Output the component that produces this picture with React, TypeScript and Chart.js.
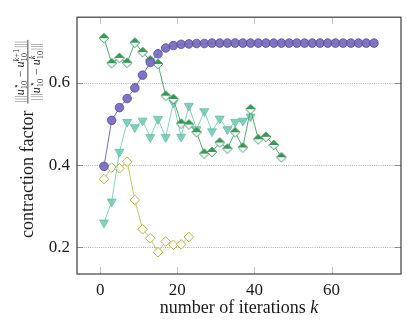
import { useEffect, useRef } from "react";
import { Chart, registerables } from "chart.js";

Chart.register(...registerables);

// ---------- data ----------
const kPurple = [1, 3, 5, 7, 9, 11, 13, 15, 17, 19, 21, 23, 25, 27, 29, 31, 33, 35, 37, 39, 41, 43, 45, 47, 49, 51, 53, 55, 57, 59, 61, 63, 65, 67, 69, 71];
const purpleValues = [0.397, 0.509, 0.54, 0.562, 0.588, 0.619, 0.65, 0.671, 0.685, 0.691, 0.694, 0.695, 0.696, 0.696, 0.697, 0.697, 0.697, 0.697, 0.697, 0.697, 0.697, 0.697, 0.697, 0.697, 0.697, 0.697, 0.697, 0.697, 0.697, 0.697, 0.697, 0.697, 0.697, 0.697, 0.697, 0.697];

const kGreen = [1, 3, 5, 7, 9, 11, 13, 15, 17, 19, 21, 23, 25, 27, 29, 31, 33, 35, 37, 39, 41, 43, 45, 47];
const greenValues = [0.709, 0.648, 0.661, 0.649, 0.698, 0.675, 0.655, 0.646, 0.569, 0.561, 0.501, 0.499, 0.48, 0.428, 0.432, 0.455, 0.44, 0.48, 0.443, 0.536, 0.463, 0.469, 0.449, 0.419];

const kTeal = [1, 3, 5, 7, 9, 11, 13, 15, 17, 19, 21, 23, 25, 27, 29, 31, 33, 35, 37, 39];
const tealValues = [0.26, 0.311, 0.432, 0.505, 0.492, 0.508, 0.468, 0.512, 0.468, 0.552, 0.469, 0.544, 0.487, 0.531, 0.482, 0.513, 0.487, 0.505, 0.508, 0.518];

const kOlive = [1, 3, 5, 7, 9, 11, 13, 15, 17, 19, 21, 23];
const oliveValues = [0.366, 0.394, 0.392, 0.408, 0.315, 0.244, 0.222, 0.188, 0.214, 0.206, 0.207, 0.225];

const xTicks = [0, 20, 40, 60];
const yTicks = [0.2, 0.4, 0.6];
const xTitleText = "number of iterations ";
const xTitleVar = "k";
const yTitleText = "contraction factor";

// ---------- styles ----------
const FONT = '"Liberation Serif", "Times New Roman", serif';
const TEXT = "#1a1a1a";
const PURPLE_FILL = "rgba(118,106,190,0.92)";
const PURPLE_EDGE = "#564a9e";
const PURPLE_LINE = "#6a5fb3";
const GREEN = "#3a9659";
const GREEN_LINE = "#45a263";
const TEAL_FILL = "rgba(110,200,178,0.85)";
const TEAL_EDGE = "#66bfa8";
const TEAL_LINE = "#78cdb7";
const OLIVE = "#b8b34a";
const OLIVE_LINE = "#c2be62";

function pts(ks: number[], vs: number[]) {
  return ks.map((k, i) => ({ x: k, y: vs[i] }));
}

function halfDiamond(color: string) {
  const c = document.createElement("canvas");
  const s = 12;
  c.width = s;
  c.height = s;
  const g = c.getContext("2d")!;
  const cx = 6, cy = 6, r = 4.8;
  const path = () => {
    g.beginPath();
    g.moveTo(cx, cy - r);
    g.lineTo(cx + r, cy);
    g.lineTo(cx, cy + r);
    g.lineTo(cx - r, cy);
    g.closePath();
  };
  path();
  g.fillStyle = "#fff";
  g.fill();
  g.beginPath();
  g.moveTo(cx, cy - r);
  g.lineTo(cx + r, cy);
  g.lineTo(cx - r, cy);
  g.closePath();
  g.fillStyle = color;
  g.fill();
  path();
  g.strokeStyle = color;
  g.lineWidth = 1;
  g.stroke();
  return c;
}

type Tok = { t: string; it?: boolean; bars?: boolean } | { sup: [string, boolean][]; sub: string };

function runTokens(ctx: CanvasRenderingContext2D, toks: Tok[], x: number, y: number, base: number, small: number, draw: boolean) {
  let cx = x;
  for (const tk of toks) {
    if ("sup" in tk) {
      let w1 = 0;
      for (const [s, it] of tk.sup) {
        ctx.font = `${it ? "italic " : ""}${small}px ${FONT}`;
        if (draw) ctx.fillText(s, cx + w1, y - base * 0.4);
        w1 += ctx.measureText(s).width;
      }
      ctx.font = `${small}px ${FONT}`;
      const w2 = ctx.measureText(tk.sub).width;
      if (draw) ctx.fillText(tk.sub, cx, y + base * 0.25);
      cx += Math.max(w1, w2) + 0.6;
    } else {
      ctx.font = `${tk.it ? "italic " : ""}${base}px ${FONT}`;
      if (draw) {
        const prev = ctx.fillStyle;
        if (tk.bars) ctx.fillStyle = "#8a8a8a";
        ctx.fillText(tk.t, cx, y);
        ctx.fillStyle = prev;
      }
      cx += ctx.measureText(tk.t).width;
    }
  }
  return cx - x;
}

const numTokens: Tok[] = [
  { t: "|||", bars: true },
  { t: "u", it: true },
  { sup: [["⋆", false]], sub: "10" },
  { t: " − " },
  { t: "u", it: true },
  { sup: [["k", true], ["+1", false]], sub: "10" },
  { t: "|||", bars: true },
];
const denTokens: Tok[] = [
  { t: "|||", bars: true },
  { t: "u", it: true },
  { sup: [["⋆", false]], sub: "10" },
  { t: " − " },
  { t: "u", it: true },
  { sup: [["k", true]], sub: "10" },
  { t: "|||", bars: true },
];

const decorPlugin = {
  id: "decor",
  beforeDatasetsDraw(chart: any) {
    const ctx: CanvasRenderingContext2D = chart.ctx;
    const { left, right, top, bottom } = chart.chartArea;
    const ys = chart.scales.y;
    const xs = chart.scales.x;
    ctx.save();
    ctx.strokeStyle = "#9c9c9c";
    ctx.lineWidth = 0.8;
    ctx.setLineDash([1, 1.2]);
    for (const t of ys.ticks) {
      const py = Math.round(ys.getPixelForValue(t.value)) + 0.5;
      ctx.beginPath();
      ctx.moveTo(left, py);
      ctx.lineTo(right, py);
      ctx.stroke();
    }
    ctx.setLineDash([]);
    ctx.strokeStyle = "#777";
    ctx.lineWidth = 0.8;
    for (const t of ys.ticks) {
      const py = Math.round(ys.getPixelForValue(t.value)) + 0.5;
      ctx.beginPath();
      ctx.moveTo(left, py);
      ctx.lineTo(left + 6, py);
      ctx.moveTo(right - 6, py);
      ctx.lineTo(right, py);
      ctx.stroke();
    }
    ctx.strokeStyle = "#c4c4c4";
    ctx.lineWidth = 1;
    for (const t of xs.ticks) {
      const px = Math.round(xs.getPixelForValue(t.value)) + 0.5;
      ctx.beginPath();
      ctx.moveTo(px, top);
      ctx.lineTo(px, top + 7);
      ctx.moveTo(px, bottom);
      ctx.lineTo(px, bottom - 7);
      ctx.stroke();
    }
    ctx.restore();
  },
  afterDraw(chart: any) {
    const ctx: CanvasRenderingContext2D = chart.ctx;
    const { left, right, top, bottom } = chart.chartArea;
    ctx.save();
    ctx.strokeStyle = "#3c3c3c";
    ctx.lineWidth = 1.2;
    ctx.strokeRect(left, top, right - left, bottom - top);

    // x title
    ctx.fillStyle = TEXT;
    ctx.textBaseline = "alphabetic";
    ctx.textAlign = "left";
    ctx.font = `18px ${FONT}`;
    const w1 = ctx.measureText(xTitleText).width;
    ctx.font = `italic 18px ${FONT}`;
    const w2 = ctx.measureText(xTitleVar).width;
    const sx = (left + right) / 2 - (w1 + w2) / 2;
    ctx.font = `18px ${FONT}`;
    ctx.fillText(xTitleText, sx, 313);
    ctx.font = `italic 18px ${FONT}`;
    ctx.fillText(xTitleVar, sx + w1, 313);

    // y title (rotated)
    ctx.translate(28, 238);
    ctx.rotate(-Math.PI / 2);
    ctx.font = `18px ${FONT}`;
    ctx.fillText(yTitleText, 0, 5);
    const wcf = ctx.measureText(yTitleText).width;
    const base = 12, small = 8.5;
    const wn = runTokens(ctx, numTokens, 0, 0, base, small, false);
    const wd = runTokens(ctx, denTokens, 0, 0, base, small, false);
    const W = Math.max(wn, wd) + 2;
    const fx = wcf + 7;
    runTokens(ctx, numTokens, fx + (W - wn) / 2, -4.5, base, small, true);
    runTokens(ctx, denTokens, fx + (W - wd) / 2, 11.5, base, small, true);
    ctx.fillRect(fx, -0.5, W, 0.8);
    ctx.restore();
  },
};

export default function App() {
  const ref = useRef<HTMLCanvasElement>(null);
  useEffect(() => {
    const canvas = ref.current!;
    const greenMark = halfDiamond(GREEN);
    const chart = new Chart(canvas, {
      type: "line",
      data: {
        datasets: [
          {
            data: pts(kPurple, purpleValues),
            borderColor: PURPLE_LINE,
            borderWidth: 0.9,
            pointStyle: "circle",
            pointRadius: 4.3,
            pointBackgroundColor: PURPLE_FILL,
            pointBorderColor: PURPLE_EDGE,
            pointBorderWidth: 0.8,
            tension: 0,
            fill: false,
          },
          {
            data: pts(kGreen, greenValues),
            borderColor: GREEN_LINE,
            borderWidth: 0.9,
            pointStyle: greenMark as any,
            pointRadius: 5,
            tension: 0,
            fill: false,
          },
          {
            data: pts(kTeal, tealValues),
            borderColor: TEAL_LINE,
            borderWidth: 0.9,
            pointStyle: "triangle",
            pointRotation: 180,
            pointRadius: 5.2,
            pointBackgroundColor: TEAL_FILL,
            pointBorderColor: TEAL_EDGE,
            pointBorderWidth: 0.8,
            tension: 0,
            fill: false,
          },
          {
            data: pts(kOlive, oliveValues),
            borderColor: OLIVE_LINE,
            borderWidth: 0.9,
            pointStyle: "rectRot",
            pointRadius: 4.8,
            pointBackgroundColor: "#ffffff",
            pointBorderColor: OLIVE,
            pointBorderWidth: 1,
            tension: 0,
            fill: false,
          },
        ],
      },
      options: {
        responsive: false,
        animation: false,
        devicePixelRatio: 1,
        events: [],
        layout: { padding: { top: 5, right: 5, bottom: 0, left: 0 } },
        plugins: { legend: { display: false }, tooltip: { enabled: false } },
        scales: {
          x: {
            type: "linear",
            min: -6,
            max: 78,
            afterBuildTicks: (s: any) => {
              s.ticks = xTicks.map((v) => ({ value: v }));
            },
            afterFit: (s: any) => {
              s.height = 50;
            },
            grid: { display: false, drawTicks: false },
            border: { display: false },
            ticks: {
              padding: 6,
              color: TEXT,
              font: { family: FONT, size: 17 },
              callback: (v: any) => String(v),
            },
          },
          y: {
            type: "linear",
            min: 0.135,
            max: 0.76,
            afterBuildTicks: (s: any) => {
              s.ticks = yTicks.map((v) => ({ value: v }));
            },
            afterFit: (s: any) => {
              s.width = 77;
            },
            grid: { display: false, drawTicks: false },
            border: { display: false },
            ticks: {
              padding: 7,
              color: TEXT,
              font: { family: FONT, size: 17 },
              callback: (v: any) => Number(v).toFixed(1),
            },
          },
        },
      } as any,
      plugins: [decorPlugin],
    });
    return () => chart.destroy();
  }, []);
  return (
    <div style={{ position: "absolute", left: 0, top: 0, width: 407, height: 324 }}>
      <canvas ref={ref} width={407} height={324} style={{ display: "block" }} />
    </div>
  );
}
